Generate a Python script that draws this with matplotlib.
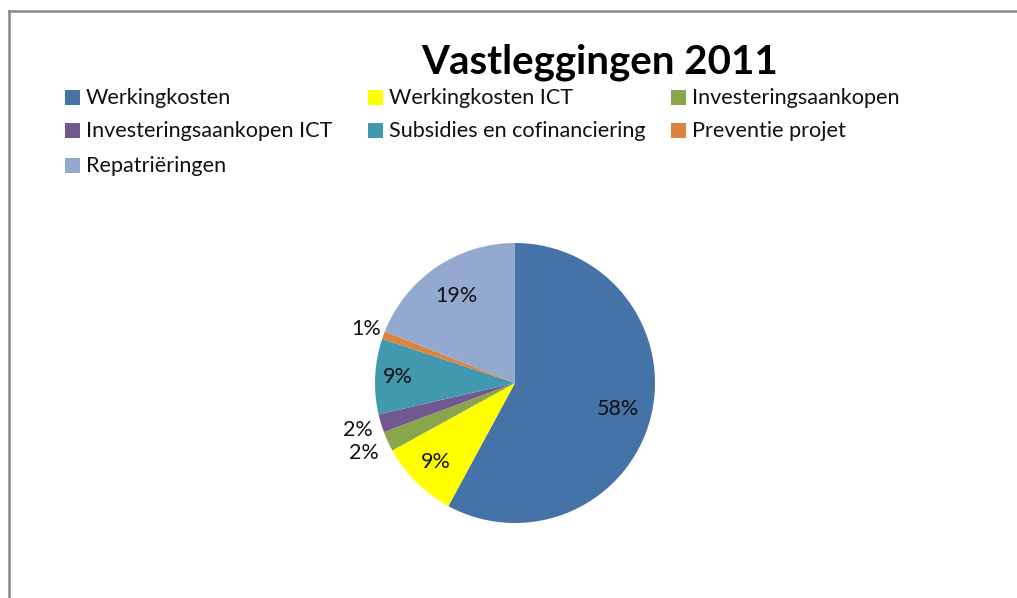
import numpy as np
import matplotlib
matplotlib.use('Agg')
from matplotlib import pyplot as plt
from matplotlib.patches import Rectangle
from matplotlib.lines import Line2D

plt.rcParams['font.family'] = ['Lato', 'DejaVu Sans']

# data
categories = ['Werkingkosten', 'Werkingkosten ICT', 'Investeringsaankopen',
              'Investeringsaankopen ICT', 'Subsidies en cofinanciering',
              'Preventie projet', 'Repatriëringen']
values = [57.9, 9.1, 2.3, 2.1, 8.7, 0.9, 19.0]
colors = ['#4572A7', '#FFFF00', '#89A54E', '#71588F', '#4198AF', '#DB843D', '#93A9CF']
title = 'Vastleggingen 2011'

W, H = 1017, 598
fig = plt.figure(figsize=(W / 100, H / 100), dpi=100)

# frame border (left and top visible)
fig.add_artist(Line2D([9 / W, 9 / W], [0, 1 - 11 / H], color='#878787', lw=1.8))
fig.add_artist(Line2D([9 / W, 1], [1 - 11 / H, 1 - 11 / H], color='#878787', lw=1.8))

fig.text(600 / W, 1 - 62 / H, title, ha='center', va='center',
         fontsize=29, fontweight='bold')

# legend, 3 columns filled by rows
col_x = [65, 368, 671]
row_y = [98, 131, 166]
for i, (name, c) in enumerate(zip(categories, colors)):
    r, k = divmod(i, 3)
    x, y = col_x[k], row_y[r]
    fig.add_artist(Rectangle((x / W, 1 - (y + 7) / H), 15 / W, 15 / H,
                             transform=fig.transFigure, color=c, lw=0))
    fig.text((x + 21) / W, 1 - y / H, name, ha='left', va='center',
             fontsize=15.6, color='#111111')

# pie
cx, cy, rad = 515, 383, 140
ax = fig.add_axes([(cx - rad) / W, (H - cy - rad) / H, 2 * rad / W, 2 * rad / H])
wedges, _ = ax.pie(values, colors=colors, startangle=90, counterclock=False,
                   radius=1, wedgeprops=dict(linewidth=0))
ax.set_xlim(-1, 1)
ax.set_ylim(-1, 1)
ax.axis('off')

label_dist = [0.76, 0.8, 1.19, 1.17, 0.84, 1.13, 0.75]
total = sum(values)
for w, v, d in zip(wedges, values, label_dist):
    ang = np.deg2rad((w.theta1 + w.theta2) / 2)
    ax.text(d * np.cos(ang), d * np.sin(ang), '%d%%' % round(v / total * 100),
            ha='center', va='center', fontsize=15.5, color='#111111', clip_on=False)

fig.savefig('out.png', dpi=100, facecolor='white')
